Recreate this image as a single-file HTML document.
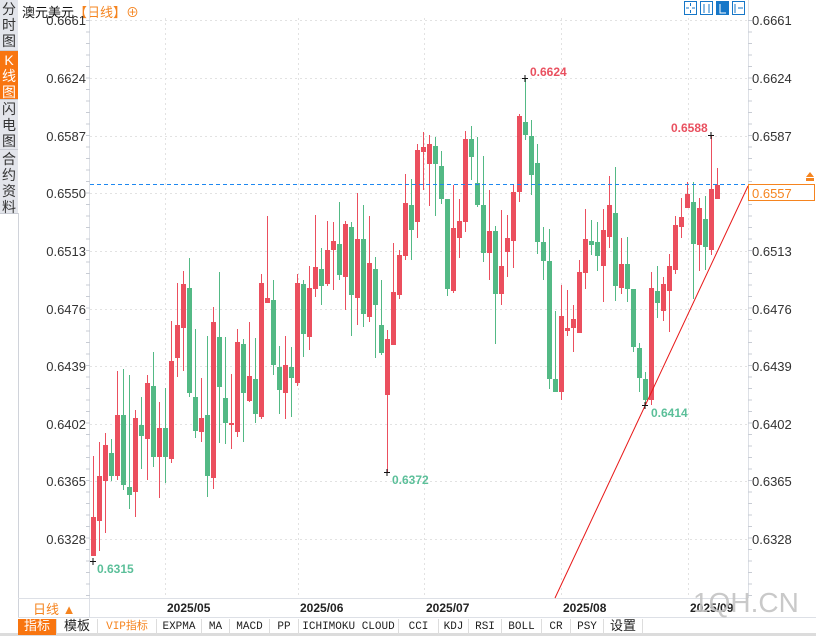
<!DOCTYPE html>
<html><head><meta charset="utf-8"><style>
body{margin:0;width:816px;height:636px;overflow:hidden;background:#fff;font-family:"Liberation Sans","Noto Sans CJK SC",sans-serif;position:relative}
.sb{position:absolute;left:0;width:18px;background:#e3e5eb;color:#333;font-size:14px;line-height:16px;text-align:center;border-bottom:1px solid #c9ccd4}
.tab{position:absolute;top:619px;height:16px;font-family:"Liberation Mono","Noto Sans CJK SC",monospace;font-size:11px;line-height:16px;text-align:center;border-right:1px solid #ddd;color:#222}
</style></head><body>
<div class="sb" style="top:0;height:49px;padding-top:1px">分<br>时<br>图</div>
<div class="sb" style="top:51px;height:47px;padding-top:1px;background:#f87510;color:#fff">K<br>线<br>图</div>
<div class="sb" style="top:100px;height:48px;padding-top:1px">闪<br>电<br>图</div>
<div class="sb" style="top:150px;height:62px;padding-top:1px">合<br>约<br>资<br>料</div>
<div style="position:absolute;left:18px;top:213px;width:1px;height:405px;background:#d0d3da"></div>
<div style="position:absolute;left:22px;top:2px;font-size:13px;color:#111">澳元美元<span style="color:#f5841f">【日线】⊕</span></div>
<svg width="816" height="636" style="position:absolute;left:0;top:0" xmlns="http://www.w3.org/2000/svg">
<g stroke="#e2e2e2" stroke-dasharray="2,3" stroke-width="1">
<line x1="90" y1="20.5" x2="748" y2="20.5"/><line x1="90" y1="78.5" x2="748" y2="78.5"/><line x1="90" y1="136.5" x2="748" y2="136.5"/><line x1="90" y1="193.5" x2="748" y2="193.5"/><line x1="90" y1="251.5" x2="748" y2="251.5"/><line x1="90" y1="309.5" x2="748" y2="309.5"/><line x1="90" y1="366.5" x2="748" y2="366.5"/><line x1="90" y1="424.5" x2="748" y2="424.5"/><line x1="90" y1="481.5" x2="748" y2="481.5"/><line x1="90" y1="539.5" x2="748" y2="539.5"/>
<line x1="165.5" y1="18" x2="165.5" y2="598"/><line x1="298.5" y1="18" x2="298.5" y2="598"/><line x1="424.5" y1="18" x2="424.5" y2="598"/><line x1="561.5" y1="18" x2="561.5" y2="598"/><line x1="688.5" y1="18" x2="688.5" y2="598"/>
</g>
<line x1="89.5" y1="0" x2="89.5" y2="618" stroke="#dde0e6"/>
<line x1="748.5" y1="0" x2="748.5" y2="598" stroke="#dde0e6"/>
<line x1="18" y1="598.5" x2="748" y2="598.5" stroke="#dde0e6"/>
<line x1="18" y1="617.5" x2="816" y2="617.5" stroke="#dde0e6"/>
<g id="ticks" stroke="#c8ccd4"></g>
<g font-size="13" fill="#333" font-family="Liberation Sans,sans-serif">
<g text-anchor="end">
<text x="86" y="25">0.6661</text><text x="86" y="83">0.6624</text><text x="86" y="141">0.6587</text><text x="86" y="198">0.6550</text><text x="86" y="256">0.6513</text><text x="86" y="314">0.6476</text><text x="86" y="371">0.6439</text><text x="86" y="429">0.6402</text><text x="86" y="486">0.6365</text><text x="86" y="544">0.6328</text></g>
<text x="752" y="25">0.6661</text><text x="752" y="83">0.6624</text><text x="752" y="141">0.6587</text><text x="752" y="198">0.6550</text><text x="752" y="256">0.6513</text><text x="752" y="314">0.6476</text><text x="752" y="371">0.6439</text><text x="752" y="429">0.6402</text><text x="752" y="486">0.6365</text><text x="752" y="544">0.6328</text>
</g>
<g id="candles"></g>
<line x1="90" y1="184.5" x2="748" y2="184.5" stroke="#1e88f0" stroke-dasharray="4,3"/>
<line x1="555" y1="598" x2="748" y2="186" stroke="#e81818" stroke-width="1"/>
<rect x="748.5" y="184.5" width="66" height="16" fill="#fff" stroke="#f5841f"/>
<text x="752" y="198" font-size="13" fill="#f5841f">0.6557</text>
<path d="M806 177 l4 -5 l4 5z M806 181 h8 v-3 h-8z" fill="#f5841f"/>
<g font-size="12" font-weight="bold">
<text x="530" y="76" fill="#e9505f">0.6624</text>
<text x="671" y="132" fill="#e9505f">0.6588</text>
<text x="392" y="484" fill="#5bbf99">0.6372</text>
<text x="97" y="573" fill="#5bbf99">0.6315</text>
<text x="651" y="417" fill="#5bbf99">0.6414</text>
</g>
<g stroke="#111" stroke-width="1">
<path d="M522 78.5h6M525 75v7"/><path d="M708 135.5h6M711 132v7"/><path d="M384 472.5h6M387 469v7"/><path d="M90 561.5h6M93 558v7"/><path d="M642 405.5h6M645 402v7"/>
</g>
<g fill="#fff" stroke="#1677c8">
<rect x="684.5" y="1.5" width="12" height="13" fill="#fff"/><rect x="700.5" y="1.5" width="12" height="13"/><rect x="716.5" y="1.5" width="12" height="13" fill="#1677c8"/><rect x="732.5" y="1.5" width="12" height="13"/>
<path d="M690.5 3v3M690.5 10v3M686 8h3M692 8h3M704 4v9M709 4v9M720 4v9h6M720 6l6 3l-6 3M735 4v9M738 8h5" fill="none"/>
<path d="M720 4v9h6" stroke="#fff" fill="none"/>
</g>
<g font-size="12" font-weight="bold" fill="#222">
<text x="167" y="612">2025/05</text><text x="300" y="612">2025/06</text><text x="426" y="612">2025/07</text><text x="563" y="612">2025/08</text><text x="690" y="612">2025/09</text>
</g>
<text x="693" y="612" font-size="28" fill="#c4c4c4" opacity="0.9">1QH.CN</text>
<line x1="89.5" y1="598" x2="89.5" y2="618" stroke="#dde0e6"/>
<text x="33" y="614" font-size="13" fill="#f5841f">日线 ▲</text>
<rect x="0" y="633" width="816" height="3" fill="#dcdcdc"/>
</svg>
<div class="tab" style="left:18px;width:38px;background:#f87510;color:#fff;font-size:13px">指标</div>
<div class="tab" style="left:57px;width:40px;font-size:13px">模板</div>
<div class="tab" style="left:98px;width:58px;color:#f5841f">VIP指标</div>
<div class="tab" style="left:157px;width:44px">EXPMA</div>
<div class="tab" style="left:202px;width:27px">MA</div>
<div class="tab" style="left:230px;width:39px">MACD</div>
<div class="tab" style="left:270px;width:28px">PP</div>
<div class="tab" style="left:299px;width:99px">ICHIMOKU CLOUD</div>
<div class="tab" style="left:399px;width:39px">CCI</div>
<div class="tab" style="left:439px;width:29px">KDJ</div>
<div class="tab" style="left:469px;width:32px">RSI</div>
<div class="tab" style="left:502px;width:39px">BOLL</div>
<div class="tab" style="left:542px;width:28px">CR</div>
<div class="tab" style="left:571px;width:32px">PSY</div>
<div class="tab" style="left:604px;width:38px;font-size:13px">设置</div>
<script>
var d=[[456,517,556,556,'r'],[442,476,521,551,'r'],[433,445,481,533,'r'],[439,453,476,481,'g'],[371,415,476,480,'r'],[369,415,485,490,'g'],[375,487,495,509,'g'],[410,418,492,517,'r'],[397,425,436,469,'g'],[375,383,439,480,'r'],[352,386,457,467,'g'],[402,428,457,498,'r'],[388,428,457,483,'g'],[321,361,459,463,'r'],[283,325,358,377,'r'],[271,284,328,371,'r'],[258,288,393,397,'g'],[329,397,431,438,'g'],[378,418,432,442,'r'],[336,415,476,497,'g'],[307,322,478,489,'r'],[272,337,387,443,'g'],[337,398,423,444,'g'],[374,423,425,449,'r'],[329,342,432,437,'r'],[339,344,393,442,'g'],[322,376,401,402,'r'],[338,379,414,423,'g'],[274,283,417,419,'r'],[216,298,303,303,'r'],
[280,300,365,375,'g'],[346,367,390,414,'g'],[336,365,393,419,'r'],[347,367,378,417,'g'],[274,283,383,386,'r'],[280,284,334,357,'g'],[266,288,337,350,'r'],[215,267,289,297,'r'],[248,269,286,305,'g'],[221,250,284,286,'r'],[222,241,250,290,'r'],[202,244,275,280,'g'],[221,224,277,310,'r'],[222,227,295,336,'g'],[193,239,298,325,'r'],[205,239,314,327,'g'],[216,263,317,322,'r'],[257,269,305,358,'g'],[280,325,353,355,'g'],[330,339,395,472,'r'],[243,292,345,345,'r'],[250,255,295,299,'r'],[174,203,256,260,'r'],[179,205,230,260,'g'],[144,150,222,238,'r'],[132,147,152,190,'r'],[135,144,164,206,'r'],[137,146,164,216,'g'],
[151,166,199,204,'g'],[199,199,289,296,'g'],[185,228,291,293,'r'],[199,221,238,258,'r'],[131,139,222,232,'r'],[126,139,157,180,'g'],[137,183,205,207,'g'],[156,205,253,262,'g'],[190,231,253,280,'r'],[226,231,294,344,'g'],[210,266,294,305,'r'],[215,238,252,277,'r'],[185,192,241,268,'r'],[114,116,192,202,'r'],[79,122,135,140,'g'],[120,136,175,195,'g'],[144,163,242,254,'g'],[227,242,261,280,'g'],[229,261,379,389,'g'],[311,379,392,392,'g'],[285,316,392,400,'r'],[290,328,331,336,'r'],[305,319,328,352,'r'],[260,272,333,333,'r'],[209,239,273,289,'r'],
[220,241,245,255,'g'],[222,242,256,271,'g'],[209,230,266,302,'r'],[176,205,237,248,'r'],[167,213,286,301,'g'],[238,264,288,294,'r'],[237,264,289,302,'g'],[289,289,347,352,'g'],[343,348,378,392,'g'],[372,379,400,406,'g'],[272,288,400,405,'r'],[266,291,303,318,'g'],[277,284,311,321,'r'],[254,266,291,332,'r'],[216,225,270,274,'r'],[198,217,227,238,'r'],[182,194,208,208,'r'],[182,202,244,299,'g'],[198,208,245,271,'r'],[196,219,247,270,'g'],[135,189,250,255,'r'],[168,185,199,199,'r']];
var s='';
d.forEach(function(c,i){var x=91+6*i,col=c[4]=='r'?'#eb4f5e':'#53b985';
s+='<rect x="'+(x+2)+'" y="'+c[0]+'" width="1" height="'+Math.max(1,c[3]-c[0])+'" fill="'+col+'"/>';
s+='<rect x="'+x+'" y="'+c[1]+'" width="5" height="'+Math.max(2,c[2]-c[1])+'" fill="'+col+'"/>';});
document.getElementById('candles').innerHTML=s;
var t='';for(var y=20.5;y<598;y+=11.5){t+='<line x1="86" y1="'+y+'" x2="90" y2="'+y+'"/><line x1="748" y1="'+y+'" x2="752" y2="'+y+'"/>';}
document.getElementById('ticks').innerHTML=t;
</script>
</body></html>
